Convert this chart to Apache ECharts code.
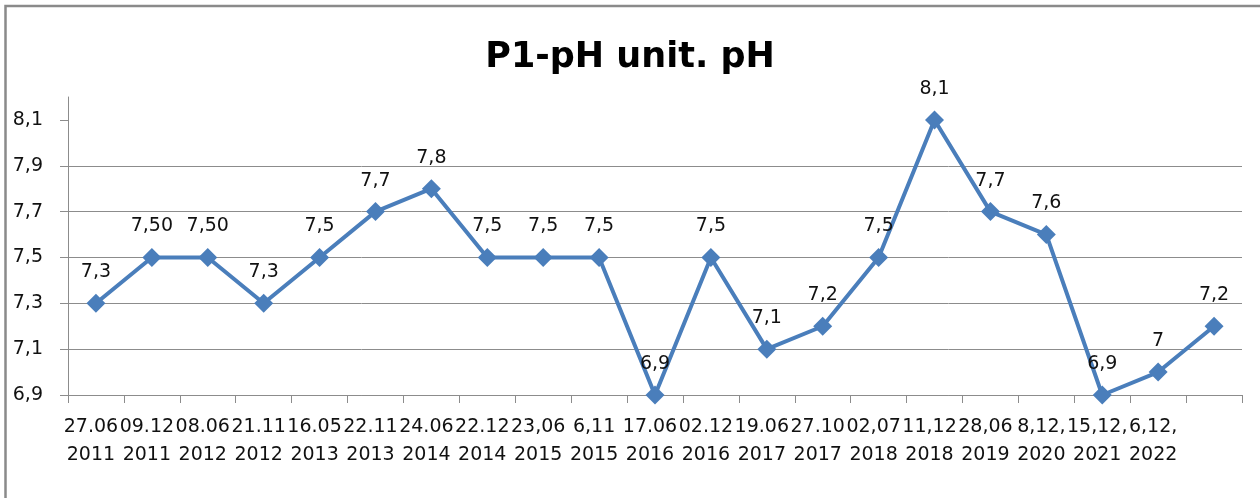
<!DOCTYPE html>
<html>
<head>
<meta charset="utf-8">
<script src="https://cdn.jsdelivr.net/npm/echarts@6/dist/echarts.min.js"></script>
<style>
  html, body { margin: 0; padding: 0; background: #fff; }
  #chart { width: 1260px; height: 498px; }
</style>
</head>
<body>
<div id="chart"></div>
<script>
// sampling dates (as written on the original axis)
var dates = [
  '27.06\n2011', '09.12\n2011', '08.06\n2012', '21.11\n2012', '16.05\n2013',
  '22.11\n2013', '24.06\n2014', '22.12\n2014', '23,06\n2015', '6,11\n2015',
  '17.06\n2016', '02.12\n2016', '19.06\n2017', '27.10\n2017', '02,07\n2018',
  '11,12\n2018', '28,06\n2019', '8,12,\n2020', '15,12,\n2021', '6,12,\n2022', ''
];

// pH values
var phValues = [7.3, 7.5, 7.5, 7.3, 7.5, 7.7, 7.8, 7.5, 7.5, 7.5, 6.9,
  7.5, 7.1, 7.2, 7.5, 8.1, 7.7, 7.6, 6.9, 7.0, 7.2];

// data labels as printed on the chart
var phLabels = ['7,3', '7,50', '7,50', '7,3', '7,5', '7,7', '7,8', '7,5', '7,5', '7,5', '6,9',
  '7,5', '7,1', '7,2', '7,5', '8,1', '7,7', '7,6', '6,9', '7', '7,2'];

// y axis ticks
var yTicks = [6.9, 7.1, 7.3, 7.5, 7.7, 7.9, 8.1];

var font = 'DejaVu Sans';
var chart = echarts.init(document.getElementById('chart'));

chart.setOption({
  animation: false,
  textStyle: { fontFamily: font },
  title: {
    text: 'P1-pH unit. pH',
    left: 'center',
    top: 35,
    textStyle: { fontFamily: font, fontSize: 35, fontWeight: 'bold', color: '#000' }
  },
  graphic: [{
    type: 'rect',
    silent: true,
    shape: { x: 5.5, y: 6, width: 1400, height: 700 },
    style: { fill: 'none', stroke: '#8a8a8a', lineWidth: 2.5 }
  }],
  grid: { left: 68, right: 18, top: 97, bottom: 103, containLabel: false },
  xAxis: {
    type: 'category',
    data: dates,
    boundaryGap: true,
    axisLine: { lineStyle: { color: '#8c8c8c', width: 1 } },
    axisTick: { show: true, length: 8, lineStyle: { color: '#8c8c8c' } },
    axisLabel: {
      interval: 0,
      margin: 18,
      fontSize: 19,
      lineHeight: 28,
      padding: [0, 10, 0, 0],
      color: '#111',
      fontFamily: font
    },
    splitLine: { show: false }
  },
  yAxis: {
    type: 'value',
    min: 6.9,
    max: 8.2,
    interval: 0.2,
    axisLine: { show: true, lineStyle: { color: '#8c8c8c', width: 1 } },
    axisTick: { show: true, length: 8, customValues: yTicks, lineStyle: { color: '#8c8c8c' } },
    axisLabel: {
      margin: 25,
      fontSize: 19,
      color: '#111',
      fontFamily: font,
      formatter: function (v) {
        if (v > 8.15) return '';
        return v.toFixed(1).replace('.', ',');
      }
    },
    splitLine: { show: true, showMaxLine: false, lineStyle: { color: '#8c8c8c', width: 1 } }
  },
  series: [{
    type: 'line',
    data: phValues,
    clip: false,
    symbol: 'diamond',
    symbolSize: 19,
    lineStyle: { color: '#4a7ebb', width: 4 },
    itemStyle: { color: '#4a7ebb' },
    label: {
      show: true,
      position: 'top',
      distance: 12,
      fontSize: 19,
      color: '#111',
      fontFamily: font,
      formatter: function (p) { return phLabels[p.dataIndex]; }
    }
  }]
});
</script>
</body>
</html>
